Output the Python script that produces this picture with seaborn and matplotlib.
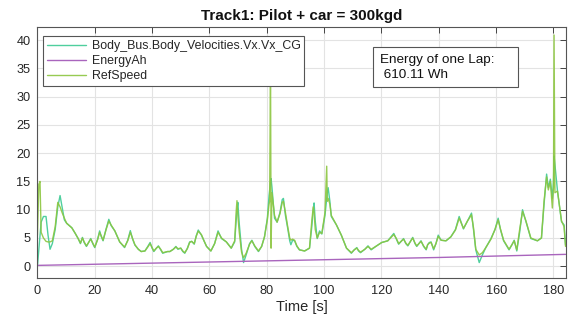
import matplotlib
matplotlib.use('Agg')
import matplotlib.pyplot as plt
from matplotlib.patches import Rectangle
import pandas as pd
import seaborn as sns

# time [s] and the two speed traces
time_s = [0.0, 0.5, 0.9, 1.3, 2.1, 3.0, 3.7, 4.4, 5.2, 6.2, 7.1, 7.9, 8.6, 9.4, 10.2, 12.0, 13.2, 14.2, 15.0, 15.7,
          16.3, 17.1, 18.6, 19.3, 20.0, 21.0, 21.7, 22.3, 22.9, 23.9, 24.9, 25.7, 27.0, 28.7, 30.4, 31.5, 32.4, 33.2, 34.0, 35.2,
          36.2, 37.5, 38.5, 39.3, 40.0, 40.6, 41.5, 42.2, 43.0, 43.7, 45.4, 46.2, 47.4, 48.3, 49.0, 50.0, 50.7, 51.4, 52.3, 53.1,
          53.8, 54.7, 55.4, 56.1, 57.2, 58.1, 59.0, 60.5, 61.8, 63.0, 64.2, 65.9, 67.6, 68.8, 69.3, 69.6, 69.9, 70.4, 71.2, 71.9,
          72.8, 74.0, 74.8, 75.8, 77.1, 78.2, 79.2, 80.2, 80.8, 81.0, 81.3, 81.5, 81.8, 82.7, 83.6, 84.6, 85.4, 85.8, 86.5, 87.3,
          88.0, 88.4, 89.0, 89.7, 90.5, 91.4, 93.2, 94.9, 95.7, 96.2, 96.5, 96.9, 97.6, 98.4, 99.2, 100.3, 100.9, 101.1, 101.4, 102.0,
          102.5, 104.3, 106.0, 107.8, 109.5, 110.5, 111.4, 112.0, 112.7, 114.2, 115.3, 116.4, 118.3, 120.1, 122.2, 124.3, 125.2, 126.0, 127.7, 128.5,
          129.2, 130.9, 131.7, 132.3, 133.8, 134.7, 135.6, 136.1, 136.7, 137.3, 138.2, 139.0, 139.8, 140.8, 142.5, 144.2, 145.8, 147.1, 148.6, 150.0,
          151.4, 152.1, 152.9, 154.1, 155.2, 156.4, 158.2, 159.6, 160.7, 161.5, 162.6, 164.5, 165.5, 166.3, 167.2, 168.2, 169.2, 170.4, 172.1, 174.4,
          175.8, 176.7, 177.6, 178.2, 178.9, 179.6, 180.0, 180.2, 180.5, 181.4, 182.8, 183.7, 184.2]

vx_cg = [0.0, 3.0, 5.5, 7.8, 8.8, 8.8, 5.5, 3.0, 4.0, 6.5, 10.5, 12.5, 10.5, 8.2, 7.6, 6.8, 5.8, 4.9, 4.0, 5.1,
         4.2, 3.5, 4.9, 4.0, 3.3, 4.8, 6.25, 5.2, 4.5, 6.5, 8.3, 7.2, 6.25, 4.3, 3.3, 4.6, 6.3, 4.8, 3.75, 3.0,
         2.6, 2.7, 3.5, 4.2, 3.2, 2.6, 3.2, 3.6, 2.9, 2.3, 2.6, 2.6, 3.0, 3.5, 3.0, 3.2, 2.6, 2.3, 3.2, 4.3,
         4.4, 3.9, 5.4, 6.4, 5.5, 4.5, 3.5, 2.7, 4.0, 6.25, 4.9, 4.3, 3.2, 4.3, 8.0, 10.0, 11.3, 7.5, 3.0, 0.65,
         2.0, 4.0, 4.6, 3.5, 2.6, 3.5, 5.2, 8.5, 12.5, 13.5, 15.0, 15.5, 14.0, 8.5, 7.8, 9.5, 11.8, 12.0, 9.0, 6.7,
         4.5, 3.8, 4.6, 4.5, 3.5, 2.9, 2.7, 3.2, 7.0, 10.0, 11.2, 8.0, 4.9, 6.25, 5.7, 9.0, 12.0, 13.0, 13.9, 11.5,
         8.8, 7.3, 5.5, 3.2, 2.3, 2.9, 3.3, 2.7, 2.4, 3.0, 3.6, 2.9, 3.6, 4.2, 4.5, 5.8, 4.8, 3.9, 4.9, 4.0,
         3.6, 5.1, 4.0, 3.5, 4.5, 3.5, 2.9, 3.8, 4.2, 4.3, 2.9, 4.0, 5.5, 4.6, 4.5, 5.2, 6.5, 8.8, 6.6, 8.0,
         9.4, 6.5, 2.9, 0.65, 2.0, 3.3, 4.9, 6.5, 8.5, 6.5, 4.5, 2.9, 3.8, 4.6, 2.7, 6.0, 10.0, 7.9, 4.9, 4.5,
         5.0, 10.9, 16.3, 13.9, 15.4, 12.0, 15.0, 19.5, 18.0, 13.3, 7.9, 7.3, 3.75]

ref_speed = [5.5, 14.5, 15.0, 6.0, 5.0, 4.4, 4.3, 4.3, 4.5, 7.0, 11.3, 10.5, 9.5, 8.5, 7.6, 6.8, 5.8, 4.9, 4.1, 5.0,
             4.3, 3.6, 4.8, 4.1, 3.4, 4.7, 6.0, 5.3, 4.6, 6.4, 8.0, 7.3, 6.25, 4.3, 3.4, 4.5, 6.0, 4.9, 3.8, 3.0,
             2.6, 2.7, 3.4, 4.0, 3.3, 2.7, 3.2, 3.5, 3.0, 2.4, 2.6, 2.6, 3.0, 3.4, 3.1, 3.2, 2.7, 2.4, 3.1, 4.2,
             4.4, 4.0, 5.3, 6.2, 5.6, 4.5, 3.5, 2.7, 4.0, 6.0, 5.0, 4.3, 3.2, 4.5, 9.5, 11.6, 9.0, 6.0, 2.5, 1.5,
             2.3, 3.9, 4.5, 3.6, 2.7, 3.5, 5.2, 8.2, 11.0, 11.5, 36.0, 3.2, 13.0, 9.0, 7.8, 9.3, 11.3, 11.5, 9.5, 7.0,
             5.0, 4.6, 4.8, 4.6, 3.6, 2.9, 2.7, 3.2, 8.0, 10.5, 9.5, 6.5, 5.0, 6.0, 5.8, 9.5, 17.7, 11.5, 12.0, 11.0,
             9.0, 7.3, 5.5, 3.2, 2.4, 2.9, 3.2, 2.8, 2.5, 3.0, 3.5, 3.0, 3.6, 4.2, 4.5, 5.6, 4.9, 4.0, 4.8, 4.1,
             3.7, 5.0, 4.1, 3.6, 4.4, 3.6, 3.0, 3.8, 4.1, 4.2, 3.1, 4.0, 5.3, 4.6, 4.5, 5.2, 6.4, 8.5, 6.7, 8.0,
             9.1, 6.8, 3.0, 2.0, 2.4, 3.3, 4.8, 6.5, 8.2, 6.6, 4.6, 3.0, 3.8, 4.5, 2.9, 6.5, 9.7, 8.0, 5.0, 4.5,
             5.0, 11.5, 15.8, 13.5, 15.0, 10.3, 14.0, 40.9, 13.0, 13.3, 8.0, 7.0, 3.5]

energy_time = [0, 20, 40, 60, 80, 100, 120, 140, 160, 184.2]
energy_ah = [0.15, 0.35, 0.55, 0.75, 0.95, 1.15, 1.35, 1.55, 1.8, 2.1]

energy_label = 'Energy of one Lap:\n 610.11 Wh'

df = pd.DataFrame({'Time': time_s, 'Vx': vx_cg, 'Ref': ref_speed})
df_e = pd.DataFrame({'Time': energy_time, 'Energy': energy_ah})

sns.set_style('whitegrid')
plt.rcParams['font.family'] = ['Liberation Sans', 'DejaVu Sans']

fig = plt.figure(figsize=(5.82, 3.23), dpi=100)
ax = fig.add_axes([0.0643, 0.139, 0.9074, 0.777])

sns.lineplot(data=df, x='Time', y='Vx', ax=ax, color='#4fcf9e', linewidth=1.0,
             label='Body_Bus.Body_Velocities.Vx.Vx_CG')
sns.lineplot(data=df_e, x='Time', y='Energy', ax=ax, color='#a965bd', linewidth=1.0,
             label='EnergyAh')
sns.lineplot(data=df, x='Time', y='Ref', ax=ax, color='#8cc63f', linewidth=1.0, alpha=0.9,
             label='RefSpeed')

ax.set_xlim(0, 184.2)
ax.set_ylim(-2.1, 42.3)
ax.set_xticks(range(0, 181, 20))
ax.set_yticks(range(0, 41, 5))
ax.grid(True, color='#e3e3e3', linewidth=0.8)
for s in ax.spines.values():
    s.set_color('#555555')
    s.set_linewidth(0.8)
ax.tick_params(direction='in', length=4, width=0.7, color='#444444', top=True, right=True,
               labelsize=9.2, labelcolor='#262626', pad=5)
ax.set_xlabel('Time [s]', fontsize=10.5, color='#262626', labelpad=2)
ax.set_ylabel('')
ax.set_title('Track1: Pilot + car = 300kgd', fontsize=11, fontweight='bold', color='#111111', pad=5)

leg = ax.legend(loc='upper left', bbox_to_anchor=(0.0106, 0.964), fontsize=8.9, frameon=True,
                fancybox=False, framealpha=1, edgecolor='#555555', handlelength=3.2,
                borderpad=0.3, labelspacing=0.25, handletextpad=0.45, borderaxespad=0)
leg.get_frame().set_linewidth(0.8)

# annotation box with fixed size, as in the original
ax.add_patch(Rectangle((0.6355, 0.762), 0.2745, 0.158, transform=ax.transAxes,
                       facecolor='white', edgecolor='#555555', linewidth=0.8, zorder=5))
ax.text(0.649, 0.893, energy_label, transform=ax.transAxes, fontsize=9.7, va='top', ha='left',
        color='#111111', linespacing=1.3, zorder=6)

fig.savefig('out.png', dpi=100)
